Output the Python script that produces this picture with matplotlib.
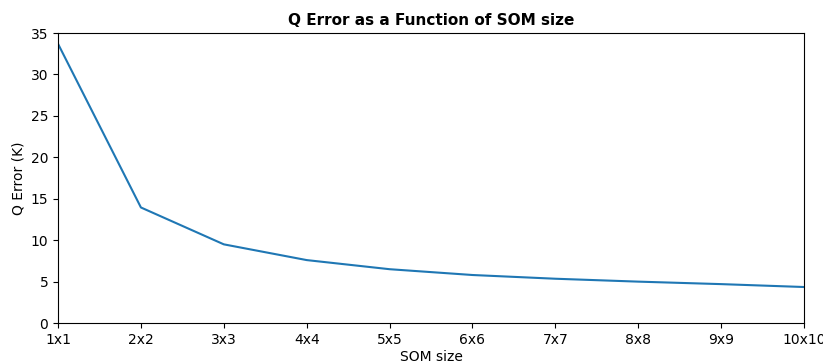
import matplotlib
matplotlib.use('Agg')
import matplotlib.pyplot as plt

# Dữ liệu
som_sizes = ['1x1', '2x2', '3x3', '4x4', '5x5', '6x6', '7x7', '8x8', '9x9', '10x10']
q_error = [33.7, 13.95, 9.5, 7.6, 6.5, 5.8, 5.35, 5.0, 4.7, 4.35]

fig, ax = plt.subplots(figsize=(8.23, 3.63), dpi=100)
fig.subplots_adjust(left=0.0705, right=0.977, top=0.909, bottom=0.110)

ax.plot(range(len(som_sizes)), q_error, color='#1f77b4', linewidth=1.5)

ax.set_xticks(range(len(som_sizes)))
ax.set_xticklabels(som_sizes)
ax.set_xlim(0, len(som_sizes) - 1)
ax.set_ylim(0, 35)

ax.set_xlabel('SOM size', labelpad=2)
ax.set_ylabel('Q Error (K)')
ax.set_title('Q Error as a Function of SOM size', fontweight='bold', fontsize=11)

fig.savefig('out.png', dpi=100)
